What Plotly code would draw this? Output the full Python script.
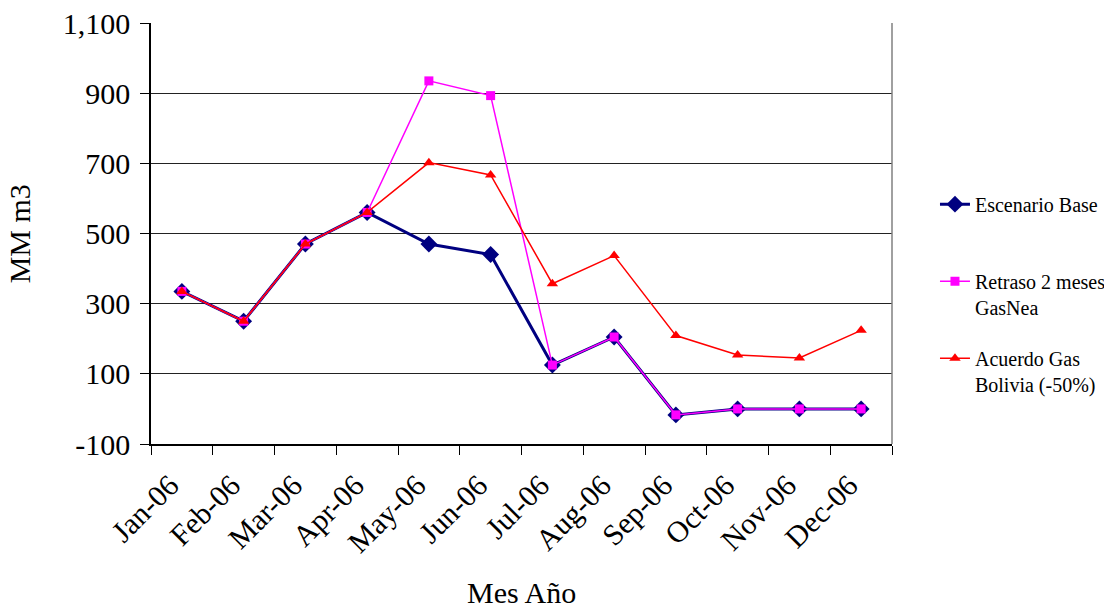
import plotly.graph_objects as go

months = ["Jan-06", "Feb-06", "Mar-06", "Apr-06", "May-06", "Jun-06",
          "Jul-06", "Aug-06", "Sep-06", "Oct-06", "Nov-06", "Dec-06"]
escenario_base = [335, 250, 470, 560, 470, 440, 125, 205, -17, 0, 0, 0]
retraso_gasnea = [335, 250, 470, 560, 935, 893, 125, 205, -17, 0, 0, 0]
acuerdo_bolivia = [335, 250, 470, 560, 702, 667, 357, 437, 209, 154, 145, 224]
y_ticks = [-100, 100, 300, 500, 700, 900, 1100]
y_tick_text = ["-100", "100", "300", "500", "700", "900", "1,100"]

FONT = "Liberation Serif, Times New Roman, serif"

fig = go.Figure()
fig.add_trace(go.Scatter(
    x=months, y=escenario_base, mode="lines+markers", name="Escenario Base<br> ",
    line=dict(color="#000080", width=3),
    marker=dict(symbol="diamond", size=13, color="#000080"),
    legendgroup="a"))
fig.add_trace(go.Scatter(
    x=months, y=retraso_gasnea, mode="lines+markers", name="Retraso 2 meses<br>GasNea",
    line=dict(color="#FF00FF", width=1.5),
    marker=dict(symbol="square", size=9, color="#FF00FF"),
    legendgroup="b"))
fig.add_trace(go.Scatter(
    x=months, y=acuerdo_bolivia, mode="lines+markers", name="Acuerdo Gas<br>Bolivia (-50%)",
    line=dict(color="#FF0000", width=1.5),
    marker=dict(symbol="triangle-up", size=10, color="#FF0000"),
    legendgroup="c"))

fig.update_layout(
    width=1104, height=609,
    margin=dict(l=151, r=212, t=23, b=165, autoexpand=False),
    paper_bgcolor="white", plot_bgcolor="white",
    font=dict(family=FONT, color="black"),
    showlegend=True,
    legend=dict(x=1.058, xanchor="left", y=0.616, yanchor="top",
                font=dict(family=FONT, size=20, color="black"),
                tracegroupgap=22, valign="top", bgcolor="rgba(0,0,0,0)"),
    shapes=[dict(type="line", xref="paper", yref="paper", x0=1, x1=1, y0=0, y1=1,
                 line=dict(color="#808080", width=1.5))],
    annotations=[
        dict(text="Mes Año", xref="paper", yref="paper", x=0.5, y=-0.352,
             xanchor="center", yanchor="middle", showarrow=False,
             font=dict(family=FONT, size=30, color="black")),
        dict(text="MM m3", xref="paper", yref="paper", x=-0.177, y=0.5,
             xanchor="center", yanchor="middle", showarrow=False, textangle=-90,
             font=dict(family=FONT, size=30, color="black")),
    ],
)
fig.update_xaxes(
    type="category", range=[-0.5, 11.5],
    showline=True, linecolor="black", linewidth=1.5,
    ticks="outside", tickson="boundaries", ticklen=9, tickcolor="black", tickwidth=1,
    tickangle=-45, tickfont=dict(family=FONT, size=30, color="black"),
    ticklabelstandoff=10, ticklabelshift=-12,
    showgrid=False, zeroline=False, automargin=False,
)
fig.update_yaxes(
    range=[-100, 1100], tickvals=y_ticks, ticktext=y_tick_text,
    showline=True, linecolor="black", linewidth=1.5,
    ticks="outside", ticklen=9, tickcolor="black", tickwidth=1,
    tickfont=dict(family=FONT, size=30, color="black"),
    ticklabelstandoff=4,
    showgrid=True, gridcolor="#222222", gridwidth=1, zeroline=False, automargin=False,
)

fig.write_html("out.html", config={"displayModeBar": False},
               post_script="document.body.style.margin='0';")
